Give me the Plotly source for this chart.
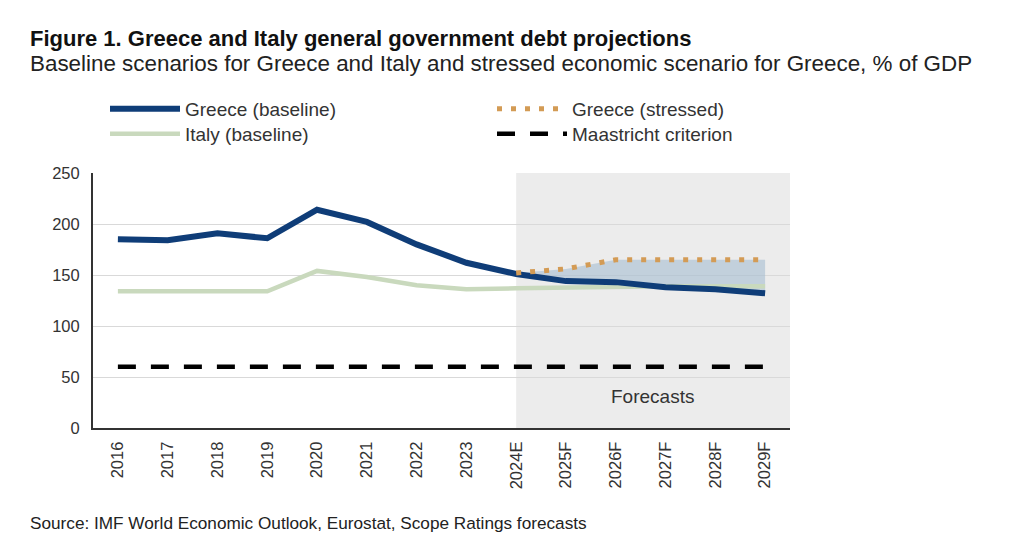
import plotly.graph_objects as go

years = ["2016", "2017", "2018", "2019", "2020", "2021", "2022", "2023",
         "2024E", "2025F", "2026F", "2027F", "2028F", "2029F"]
greece_base = [185, 184, 191, 186, 214, 202, 180, 162, 151, 144, 143, 138, 136, 132]
italy_base = [134, 134, 134, 134, 154, 148, 140, 136, 137, 138, 139, 139, 139, 139]
stress_years = ["2024E", "2025F", "2026F", "2027F", "2028F", "2029F"]
greece_stress = [152, 156, 165, 165, 165, 165]
greece_base_fc = greece_base[8:]
maastricht = [60] * len(years)
y_ticks = [0, 50, 100, 150, 200, 250]

FONT = "Liberation Sans, Arial, sans-serif"

W, H = 1015, 550
L, T = 85, 165
PW, PH = 697, 255
R = W - L - PW
B = H - T - PH


def px(X):
    return (X - L) / PW


def py(Y):
    return (T + PH - Y) / PH


fig = go.Figure()

# shaded gap between stressed and baseline (forecast)
fig.add_trace(go.Scatter(x=stress_years, y=greece_base_fc, mode="lines",
                         line=dict(width=0, color="rgba(0,0,0,0)"),
                         showlegend=False, hoverinfo="skip"))
fig.add_trace(go.Scatter(x=stress_years, y=greece_stress, mode="lines",
                         line=dict(width=0, color="rgba(0,0,0,0)"),
                         fill="tonexty", fillcolor="rgba(160,185,208,0.55)",
                         showlegend=False, hoverinfo="skip"))

fig.add_trace(go.Scatter(x=years, y=italy_base, mode="lines", name="Italy (baseline)",
                         line=dict(color="#c9d9bd", width=4.5), legend="legend2"))
fig.add_trace(go.Scatter(x=years, y=greece_base, mode="lines", name="Greece (baseline)",
                         line=dict(color="#0f3d78", width=6), legend="legend"))
fig.add_trace(go.Scatter(x=stress_years, y=greece_stress, mode="lines", name="Greece (stressed)",
                         line=dict(color="#d39b55", width=5, dash="5px,9px"), legend="legend3"))
fig.add_trace(go.Scatter(x=years, y=maastricht, mode="lines", name="Maastricht criterion",
                         line=dict(color="#000000", width=4.5, dash="18px,15px"), legend="legend4"))

fig.add_shape(type="rect", xref="x", yref="y", x0=8, x1=13.5, y0=0, y1=250,
              fillcolor="#ececec", line=dict(width=0), layer="below")

fig.add_annotation(x=10.74, y=31, xref="x", yref="y", text="Forecasts",
                   showarrow=False, font=dict(size=19, color="#333333", family=FONT))

fig.add_annotation(x=px(20), y=py(30), xref="paper", yref="paper", xanchor="left", yanchor="middle",
                   text="<b>Figure 1. Greece and Italy general government debt projections</b>",
                   showarrow=False, font=dict(size=22, color="#111111", family=FONT))
fig.add_annotation(x=px(20), y=py(55), xref="paper", yref="paper", xanchor="left", yanchor="middle",
                   text="Baseline scenarios for Greece and Italy and stressed economic scenario for Greece, % of GDP",
                   showarrow=False, font=dict(size=22.4, color="#222222", family=FONT))
fig.add_annotation(x=px(20), y=py(515), xref="paper", yref="paper", xanchor="left", yanchor="middle",
                   text="Source: IMF World Economic Outlook, Eurostat, Scope Ratings forecasts",
                   showarrow=False, font=dict(size=17.2, color="#222222", family=FONT))

LEG_FONT = dict(size=19, color="#333333", family=FONT)


def leg(xf, yf):
    return dict(x=px(xf), y=py(yf), xanchor="left", yanchor="top", orientation="v",
                font=LEG_FONT, itemwidth=70, bgcolor="rgba(0,0,0,0)", borderwidth=0)


fig.update_layout(
    width=W, height=H,
    margin=dict(l=L, r=R, t=T, b=B, autoexpand=False),
    paper_bgcolor="white", plot_bgcolor="white",
    font=dict(family=FONT, color="#333333"),
    showlegend=True,
    legend=leg(97, 82),
    legend2=leg(97, 107),
    legend3=leg(484, 82),
    legend4=leg(484, 107),
    xaxis=dict(type="category", categoryorder="array", categoryarray=years,
               range=[-0.5, 13.5], tickangle=-90, showgrid=False,
               showline=True, linecolor="#333333", linewidth=2, ticks="",
               ticklabelstandoff=5,
               tickfont=dict(size=16.5, color="#333333")),
    yaxis=dict(range=[0, 250], tickvals=y_ticks, showgrid=True, gridcolor="#d9d9d9",
               gridwidth=1, showline=True, linecolor="#333333", linewidth=2, ticks="",
               ticklabelstandoff=8,
               zeroline=False, tickfont=dict(size=16.5, color="#333333")),
)

fig.write_html("out.html")
